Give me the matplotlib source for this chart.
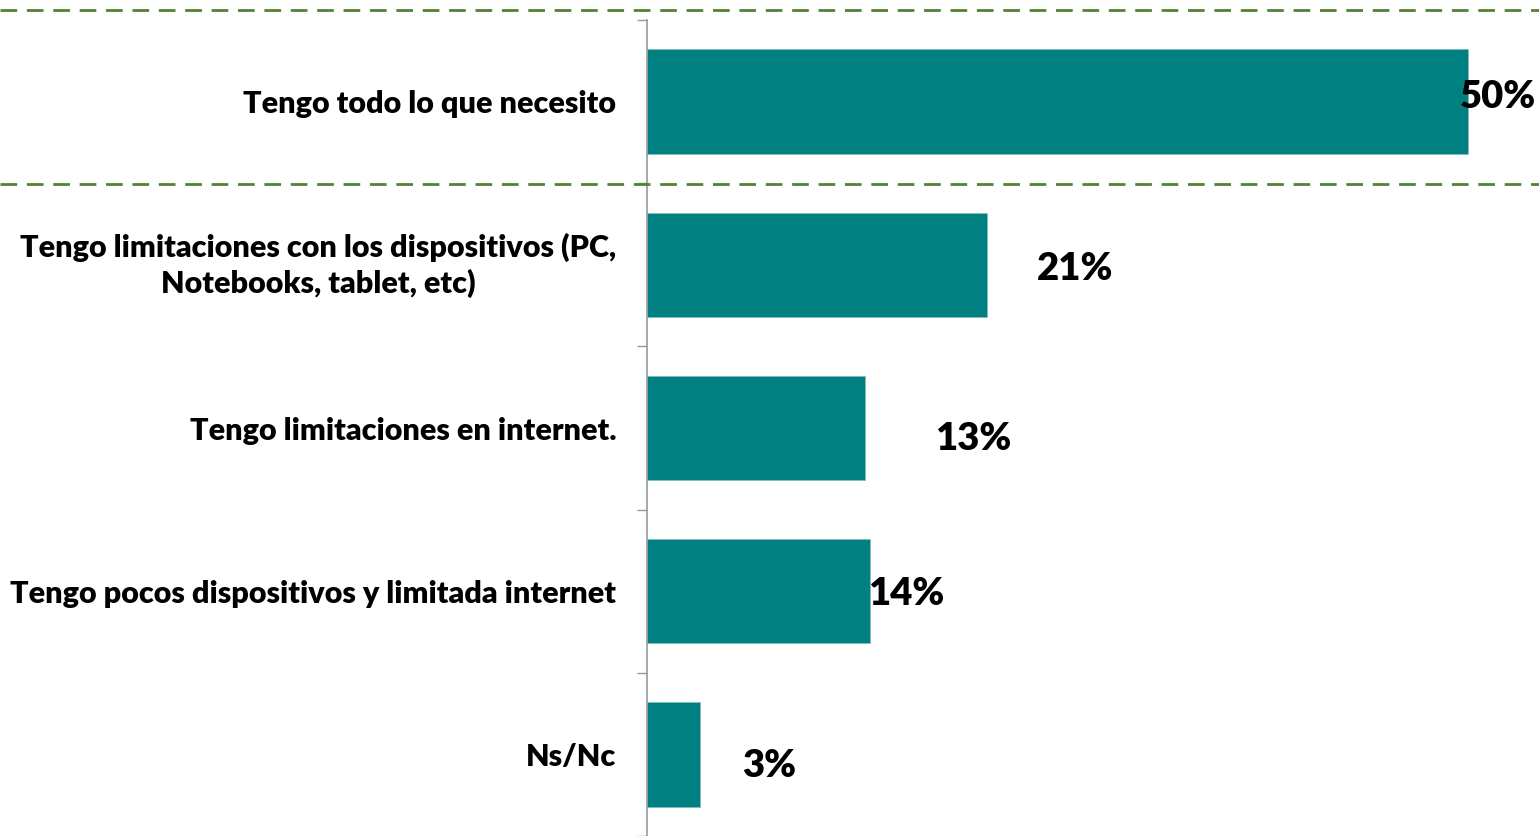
import matplotlib.pyplot as plt
from matplotlib.lines import Line2D
from matplotlib.ticker import FixedLocator
from matplotlib.transforms import ScaledTranslation

plt.rcParams['font.family'] = ['Lato', 'DejaVu Sans']

categories = ['Tengo todo lo que necesito',
              'Tengo limitaciones con los dispositivos (PC,\nNotebooks, tablet, etc)',
              'Tengo limitaciones en internet.',
              'Tengo pocos dispositivos y limitada internet',
              'Ns/Nc']
values = [50, 20.7, 13.3, 13.6, 3.2]
labels = ['50%', '21%', '13%', '14%', '3%']
# label offsets in points (x from bar end, y from bar center)
lab_dx = [-6, 36, 50, -2, 31]
lab_dy = [3, -3, -8, -2, -8]

bar_col = '#008080'
dash_col = '#548235'

fig = plt.figure(figsize=(15.39, 8.36), dpi=100)
ax = fig.add_axes([647/1539, 0, 892/1539, 816/836])

y = range(len(categories))
ax.barh(y, values, height=0.64, color=bar_col, edgecolor='#7fbfbf', linewidth=0.6)
ax.set_ylim(len(categories)-0.5, -0.5)
ax.set_xlim(0, 54.3)

for i, (v, t) in enumerate(zip(values, labels)):
    ax.annotate(t, (v, i), xytext=(lab_dx[i], lab_dy[i]), textcoords='offset points',
                ha='left', va='center', fontsize=27.5, fontweight='heavy', color='black')

ax.set_yticks(list(y))
ax.set_yticklabels(categories, fontsize=22, fontweight='heavy', multialignment='center',
                   linespacing=1.3)
ax.tick_params(axis='y', which='major', length=0, pad=22)
# nudge the two-line label up a little
for lab in ax.get_yticklabels():
    if '\n' in lab.get_text():
        lab.set_transform(lab.get_transform() + ScaledTranslation(0, 4/72, fig.dpi_scale_trans))
ax.yaxis.set_minor_locator(FixedLocator([i - 0.5 for i in range(len(categories)+1)]))
ax.tick_params(axis='y', which='minor', length=7, color='#999999', width=1)
ax.set_xticks([])
for s in ['top', 'right', 'bottom']:
    ax.spines[s].set_visible(False)
ax.spines['left'].set_color('#999999')
ax.spines['left'].set_linewidth(1.2)

# dashed separators
for yy in [1 - 10/836, 1 - 184/836]:
    fig.add_artist(Line2D([0, 1], [yy, yy], transform=fig.transFigure, color=dash_col,
                          linewidth=2, linestyle=(0, (6, 3.5))))

fig.savefig('out.png', dpi=100)
